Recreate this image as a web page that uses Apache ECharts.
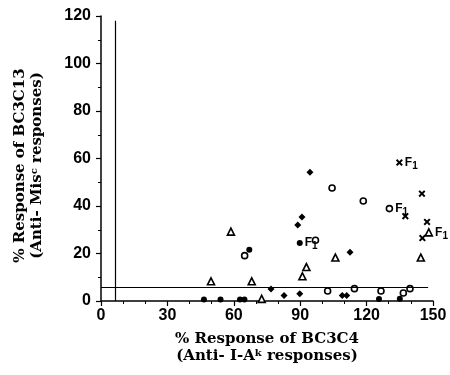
<!DOCTYPE html>
<html>
<head>
<meta charset="utf-8">
<script src="https://cdn.jsdelivr.net/npm/echarts@6/dist/echarts.min.js"></script>
<style>
  html, body {margin: 0; padding: 0; background: #fff;}
  #chart {width: 450px; height: 375px;}
</style>
</head>
<body>
<div id="chart"></div>
<script>
// [x, y, hasF1Label]
const filledDiamonds = [
  [94.4, 54.2], [90.8, 35.4], [88.9, 32.0], [112.5, 20.5], [76.8, 5.1],
  [82.7, 2.3], [89.8, 3.1], [109.0, 2.3], [111.0, 2.3]
];
const filledCircles = [
  [89.8, 24.4, 1], [67.0, 21.6], [46.5, 0.6], [54.0, 0.6], [62.8, 0.6],
  [64.8, 0.6], [125.6, 0.8], [135.0, 0.9]
];
const openCircles = [
  [104.4, 47.6], [118.5, 42.1], [130.3, 38.9, 1], [96.9, 25.6], [64.9, 19.1],
  [102.4, 4.2], [114.5, 5.2], [126.5, 4.2], [136.6, 3.4], [139.6, 5.2]
];
const triangles = [
  [58.7, 29.2], [49.7, 8.3], [68.1, 8.3], [91.0, 10.4], [92.8, 14.3],
  [105.9, 18.3], [144.5, 18.3], [148.1, 28.9, 1], [72.6, 0.9]
];
const crosses = [
  [134.8, 58.3, 1], [145.0, 45.2], [137.5, 35.7], [147.3, 33.3], [145.2, 26.5]
];
const cutoffX = 6.5;
const cutoffY = 5.6;

const chart = echarts.init(document.getElementById('chart'));

const crossPath = 'path://M0,2L2,0L5,3L8,0L10,2L7,5L10,8L8,10L5,7L2,10L0,8L3,5Z';

const f1Label = {
  show: true,
  position: 'right',
  distance: 2,
  formatter: p => (p.value[2] ? '{f|F}{s|1}' : ''),
  rich: {
    f: {fontFamily: 'Liberation Sans', fontWeight: 'bold', fontSize: 12, color: '#000', lineHeight: 14},
    s: {fontFamily: 'Liberation Sans', fontWeight: 'bold', fontSize: 10, color: '#000', padding: [7, 0, 0, 0]}
  }
};

const mk = (name, data, symbol, size, filled) => ({
  name,
  type: 'scatter',
  data,
  symbol,
  symbolSize: size,
  label: f1Label,
  itemStyle: filled
    ? {color: '#000', opacity: 1}
    : {color: '#fff', borderColor: '#000', borderWidth: 1.6, opacity: 1}
});

const tickFont = {fontFamily: 'Liberation Sans', fontWeight: 'bold', fontSize: 16, color: '#000'};
const nameFont = {
  fontFamily: 'DejaVu Serif', fontWeight: 'bold', fontSize: 15, color: '#000', lineHeight: 17,
  rich: {
    t: {fontFamily: 'DejaVu Serif', fontWeight: 'bold', fontSize: 15, color: '#000', lineHeight: 17},
    sup: {fontFamily: 'DejaVu Serif', fontWeight: 'bold', fontSize: 10, color: '#000', lineHeight: 17, padding: [0, 0, 7, 0]}
  }
};

const lineX = [{coord: [cutoffX, 0]}, {coord: [cutoffX, 118]}];
const lineY = [{coord: [0, cutoffY]}, {coord: [147.8, cutoffY]}];

chart.setOption({
  animation: false,
  grid: {left: 101, right: 17, top: 16, bottom: 74},
  xAxis: {
    type: 'value', min: 0, max: 150, interval: 30,
    name: '{t|% Response of BC3C4}\n{t|(Anti- I-A}{sup|k}{t| responses)}',
    nameLocation: 'middle', nameGap: 30,
    nameTextStyle: nameFont,
    splitLine: {show: false},
    axisLine: {lineStyle: {color: '#000', width: 1.5}},
    axisTick: {length: 5, lineStyle: {color: '#000', width: 1.2}},
    minorTick: {show: true, splitNumber: 3, length: 3, lineStyle: {color: '#000'}},
    axisLabel: {...tickFont, margin: 7}
  },
  yAxis: {
    type: 'value', min: 0, max: 120, interval: 20,
    name: '{t|% Response of BC3C13}\n{t|(Anti- Mis}{sup|c}{t| responses)}',
    nameLocation: 'middle', nameGap: 55, nameRotate: 90,
    nameTextStyle: {...nameFont, padding: [0, 0, 0, -14]},
    splitLine: {show: false},
    axisLine: {show: true, lineStyle: {color: '#000', width: 1.5}},
    axisTick: {show: true, length: 5, lineStyle: {color: '#000', width: 1.2}},
    minorTick: {show: true, splitNumber: 2, length: 3, lineStyle: {color: '#000'}},
    axisLabel: {...tickFont, margin: 10}
  },
  series: [
    {
      ...mk('filledDiamond', filledDiamonds, 'diamond', 7, true),
      markLine: {
        silent: true, symbol: 'none', animation: false,
        label: {show: false},
        lineStyle: {color: '#000', width: 1.2, type: 'solid', opacity: 1},
        data: [lineX, lineY]
      }
    },
    mk('filledCircle', filledCircles, 'circle', 6, true),
    mk('openCircle', openCircles, 'circle', 6, false),
    mk('triangle', triangles, 'triangle', 7, false),
    mk('cross', crosses, crossPath, 7, true)
  ]
});
</script>
</body>
</html>
